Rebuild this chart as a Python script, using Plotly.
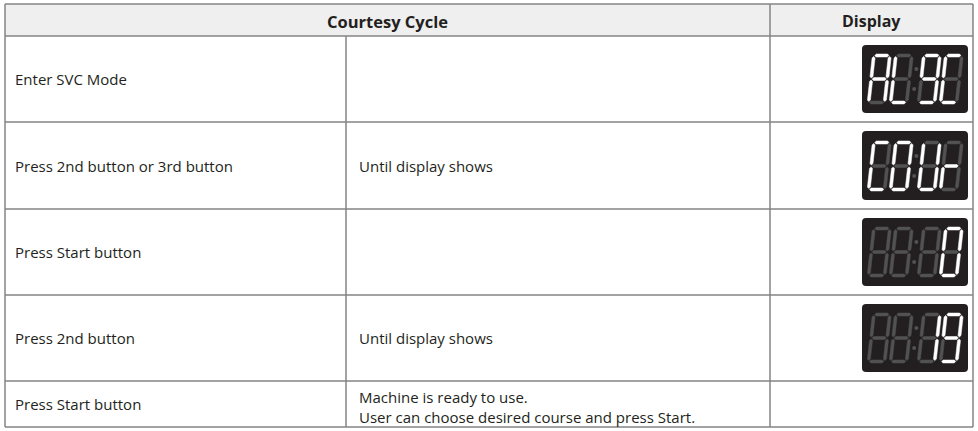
import plotly.graph_objects as go

# ---------------- data ----------------
header_labels = ["Courtesy Cycle", "Display"]
step_labels = [
    "Enter SVC Mode",
    "Press 2nd button or 3rd button",
    "Press Start button",
    "Press 2nd button",
    "Press Start button",
]
note_lines = [
    [],
    ["Until display shows"],
    [],
    ["Until display shows"],
    ["Machine is ready to use.", "User can choose desired course and press Start."],
]
display_codes = ["AL9C", "COUr", "   0", "  19", None]

# seven-segment glyphs
SEGMENTS = {
    "A": "abcefg", "L": "def", "9": "abcdfg", "C": "adef", "O": "abcdef",
    "0": "abcdef", "U": "bcdef", "r": "eg", "1": "bc", " ": "",
}

# ---------------- layout geometry ----------------
W, H = 978, 431
col_x = [5, 346, 770, 973]
row_y = [4, 36, 122, 209, 295, 381, 427]
LINE = "#858585"
TEXT = "#231f20"
FONT = "Open Sans"

fig = go.Figure()
shapes = []
annotations = []

# header background
shapes.append(dict(type="rect", xref="x", yref="y", x0=col_x[0], x1=col_x[3],
                   y0=row_y[0], y1=row_y[1], fillcolor="#efefef", line_width=0, layer="below"))

# horizontal rules
for y in row_y:
    shapes.append(dict(type="line", xref="x", yref="y", x0=col_x[0], x1=col_x[3], y0=y, y1=y,
                       line=dict(color=LINE, width=1.5)))
# vertical rules
for x in (col_x[0], col_x[2], col_x[3]):
    shapes.append(dict(type="line", xref="x", yref="y", x0=x, x1=x, y0=row_y[0], y1=row_y[-1],
                       line=dict(color=LINE, width=1.5)))
shapes.append(dict(type="line", xref="x", yref="y", x0=col_x[1], x1=col_x[1], y0=row_y[1], y1=row_y[-1],
                   line=dict(color=LINE, width=1.5)))

# header text
annotations.append(dict(x=(col_x[0] + col_x[2]) / 2, y=(row_y[0] + row_y[1]) / 2 + 1, xref="x", yref="y",
                        text="<b>%s</b>" % header_labels[0], showarrow=False,
                        font=dict(family=FONT, size=16.5, color=TEXT), xanchor="center", yanchor="middle"))
annotations.append(dict(x=(col_x[2] + col_x[3]) / 2, y=(row_y[0] + row_y[1]) / 2 + 1, xref="x", yref="y",
                        text="<b>%s</b>" % header_labels[1], showarrow=False,
                        font=dict(family=FONT, size=16, color=TEXT), xanchor="center", yanchor="middle"))

# body text
for i, label in enumerate(step_labels):
    yc = (row_y[i + 1] + row_y[i + 2]) / 2
    annotations.append(dict(x=col_x[0] + 8, y=yc, xref="x", yref="y", text=label, showarrow=False,
                            font=dict(family=FONT, size=15, color=TEXT), xanchor="left", yanchor="middle"))
    lines = note_lines[i]
    n = len(lines)
    for j, ln in enumerate(lines):
        yy = yc + (j - (n - 1) / 2) * 20 + (3 if n > 1 else 0)
        annotations.append(dict(x=col_x[1] + 11, y=yy, xref="x", yref="y", text=ln, showarrow=False,
                                font=dict(family=FONT, size=15, color=TEXT), xanchor="left", yanchor="middle"))

# ---------------- seven segment displays ----------------
BOX_BG = "#231f20"
ON = "#ffffff"
OFF = "#525252"
dw, dh, t, slant, gap = 19, 50, 3.0, 0.11, 0.9
digit_offsets = [5, 27, 55, 77]


def seg_poly(seg):
    ht = t / 2
    if seg in "adg":
        vc = {"a": dh - ht, "g": dh / 2, "d": ht}[seg]
        u1, u2 = ht + gap, dw - ht - gap
        return [(u1, vc), (u1 + ht, vc + ht), (u2 - ht, vc + ht), (u2, vc), (u2 - ht, vc - ht), (u1 + ht, vc - ht)]
    uc = ht if seg in "ef" else dw - ht
    if seg in "bf":
        v1, v2 = dh / 2 + gap, dh - ht - gap
    else:
        v1, v2 = ht + gap, dh / 2 - gap
    return [(uc, v1), (uc + ht, v1 + ht), (uc + ht, v2 - ht), (uc, v2), (uc - ht, v2 - ht), (uc - ht, v1 + ht)]


for i, code in enumerate(display_codes):
    if code is None:
        continue
    top, bot = row_y[i + 1] + 9, row_y[i + 2] - 9
    bx0, bx1 = 862, 968
    r = 4
    shapes.append(dict(type="path", xref="x", yref="y", fillcolor=BOX_BG, line_width=0, layer="below",
                       path=(f"M{bx0 + r},{top} L{bx1 - r},{top} Q{bx1},{top} {bx1},{top + r} "
                             f"L{bx1},{bot - r} Q{bx1},{bot} {bx1 - r},{bot} L{bx0 + r},{bot} "
                             f"Q{bx0},{bot} {bx0},{bot - r} L{bx0},{top + r} Q{bx0},{top} {bx0 + r},{top} Z")))
    ybase = bot - 9
    xs = {True: [], False: []}
    ys = {True: [], False: []}
    for k, ch in enumerate(code):
        x0 = bx0 + digit_offsets[k]
        lit = SEGMENTS.get(ch, "")
        for seg in "abcdefg":
            pts = seg_poly(seg)
            on = seg in lit
            for (u, v) in pts + [pts[0]]:
                xs[on].append(x0 + u + slant * v)
                ys[on].append(ybase - v)
            xs[on].append(None)
            ys[on].append(None)
    for on in (False, True):
        fig.add_trace(go.Scatter(x=xs[on], y=ys[on], mode="lines", fill="toself",
                                 fillcolor=ON if on else OFF, line=dict(width=0.5, color=ON if on else OFF),
                                 hoverinfo="skip", showlegend=False))
    # colon
    cx = bx0 + (digit_offsets[1] + dw + digit_offsets[2]) / 2
    for fv in (0.3, 0.7):
        v = dh * fv
        x = cx + slant * v
        y = ybase - v
        shapes.append(dict(type="circle", xref="x", yref="y", x0=x - 2, x1=x + 2, y0=y - 2, y1=y + 2,
                           fillcolor=OFF, line_width=0))

fig.update_layout(
    width=W, height=H, margin=dict(l=0, r=0, t=0, b=0),
    paper_bgcolor="white", plot_bgcolor="white",
    xaxis=dict(range=[0, W], visible=False, fixedrange=True),
    yaxis=dict(range=[H, 0], visible=False, fixedrange=True),
    shapes=shapes, annotations=annotations, showlegend=False,
)
fig.write_html("out.html", config={"displayModeBar": False},
               post_script="document.body.style.margin='0px';")
